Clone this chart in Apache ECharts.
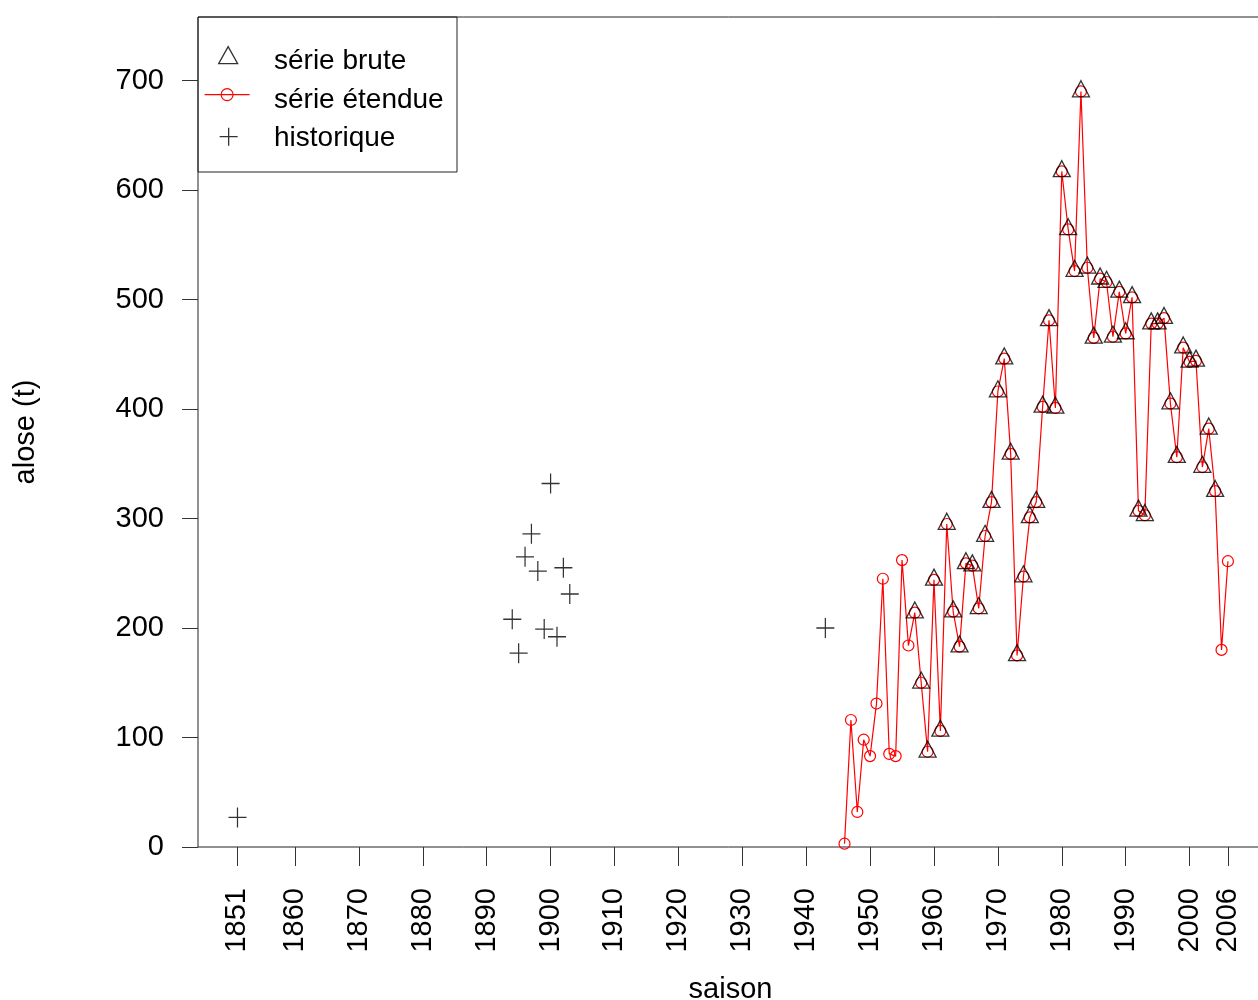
<!DOCTYPE html>
<html>
<head>
<meta charset="utf-8">
<script src="https://cdn.jsdelivr.net/npm/echarts@6.0.0/dist/echarts.min.js"></script>
<style>
  html, body { margin: 0; padding: 0; background: #fff; }
  #chart { width: 1258px; height: 1000px; }
</style>
</head>
<body>
<div id="chart"></div>
<script>
// historique (+)
var historiqueYears  = [1851, 1894, 1895, 1896, 1897, 1898, 1899, 1900, 1901, 1902, 1903, 1943];
var historiqueValues = [27, 208, 177, 265, 286, 252, 199, 332, 192, 255, 231, 200];

// serie etendue (red line + circles)
var etendueYears = [1946, 1947, 1948, 1949, 1950, 1951, 1952, 1953, 1954, 1955,
  1956, 1957, 1958, 1959, 1960, 1961, 1962, 1963, 1964, 1965,
  1966, 1967, 1968, 1969, 1970, 1971, 1972, 1973, 1974, 1975,
  1976, 1977, 1978, 1979, 1980, 1981, 1982, 1983, 1984, 1985,
  1986, 1987, 1988, 1989, 1990, 1991, 1992, 1993, 1994, 1995,
  1996, 1997, 1998, 1999, 2000, 2001, 2002, 2003, 2004, 2005, 2006];
var etendueValues = [3, 116, 32, 98, 83, 131, 245, 85, 83, 262,
  184, 214, 150, 87, 244, 106, 295, 215, 183, 259,
  257, 218, 284, 315, 416, 446, 359, 175, 247, 301,
  315, 402, 481, 401, 617, 564, 526, 690, 529, 465,
  519, 516, 466, 507, 469, 502, 307, 303, 478, 478,
  483, 405, 356, 456, 443, 444, 347, 382, 325, 180, 261];

// serie brute (triangles)
var bruteYears = [1957, 1958, 1959, 1960, 1961, 1962, 1963, 1964, 1965,
  1966, 1967, 1968, 1969, 1970, 1971, 1972, 1973, 1974, 1975,
  1976, 1977, 1978, 1979, 1980, 1981, 1982, 1983, 1984, 1985,
  1986, 1987, 1988, 1989, 1990, 1991, 1992, 1993, 1994, 1995,
  1996, 1997, 1998, 1999, 2000, 2001, 2002, 2003, 2004];
var bruteValues = [214, 150, 87, 244, 106, 295, 215, 183, 259,
  257, 218, 284, 315, 416, 446, 359, 175, 247, 301,
  315, 402, 481, 401, 617, 564, 526, 690, 529, 465,
  519, 516, 466, 507, 469, 502, 307, 303, 478, 478,
  483, 405, 356, 456, 443, 444, 347, 382, 325];

var xTickYears = [1851, 1860, 1870, 1880, 1890, 1900, 1910, 1920, 1930, 1940,
  1950, 1960, 1970, 1980, 1990, 2000, 2006];
var yTickValues = [0, 100, 200, 300, 400, 500, 600, 700];

function pairs(xs, ys) {
  return xs.map(function (x, i) { return [x, ys[i]]; });
}

var FONT = "'Liberation Sans', Arial, sans-serif";
var FS = 29;   // axis text
var LFS = 28;  // legend text
var PLUS = 'path://M0,10L20,10M10,0L10,20';

// legend: one component for each symbol, one for each label
function legendIcon(name, left, top, w, h, extra) {
  var l = {
    data: [name], selectedMode: false, left: left, top: top, padding: 0,
    itemWidth: w, itemHeight: h,
    itemStyle: { borderWidth: 1.3 },
    formatter: function () { return ''; },
    textStyle: { fontSize: 1, lineHeight: 1 }
  };
  return Object.assign(l, extra || {});
}
function legendLabel(name, top) {
  return {
    data: [name], selectedMode: false, left: 267, top: top, padding: 0,
    itemWidth: 1, itemHeight: 1,
    itemStyle: { opacity: 0 }, lineStyle: { opacity: 0 },
    textStyle: { fontFamily: FONT, fontSize: LFS, lineHeight: LFS, color: '#000' }
  };
}

var myChart = echarts.init(document.getElementById('chart'));
var option = {
  animation: false,
  backgroundColor: '#fff',
  textStyle: { fontFamily: FONT },
  grid: {
    left: 198, top: 17, right: -5, bottom: 153,
    outerBoundsMode: 'none', containLabel: false,
    show: true, borderColor: '#222', borderWidth: 1
  },
  legend: [
    legendIcon('série brute', 218, 46, 19, 17),
    legendIcon('série étendue', 204, 88, 45, 15,
      { itemStyle: { borderWidth: 1.2 }, lineStyle: { width: 1.2 } }),
    legendIcon('historique', 219, 127, 18, 18),
    legendLabel('série brute', 47),
    legendLabel('série étendue', 86),
    legendLabel('historique', 124)
  ],
  graphic: [{
    type: 'rect', z: 1, silent: true,
    shape: { x: 198, y: 17, width: 259, height: 155 },
    style: { fill: 'none', stroke: '#222', lineWidth: 1 }
  }],
  xAxis: {
    type: 'value', min: 1844.82, max: 2011.49,
    name: 'saison', nameLocation: 'middle', nameGap: 128,
    nameTextStyle: { fontFamily: FONT, fontSize: FS, color: '#000' },
    axisLine: { show: false },
    splitLine: { show: false },
    axisTick: { show: true, inside: false, length: 19, customValues: xTickYears,
      lineStyle: { color: '#333', width: 1 } },
    axisLabel: { rotate: 90, margin: 41, fontSize: FS, color: '#000', fontFamily: FONT,
      customValues: xTickYears, formatter: function (v) { return String(v); } }
  },
  yAxis: {
    type: 'value', min: 0, max: 758,
    name: 'alose (t)', nameLocation: 'middle', nameGap: 158,
    nameTextStyle: { fontFamily: FONT, fontSize: FS, color: '#000' },
    axisLine: { show: false },
    splitLine: { show: false },
    axisTick: { show: true, inside: false, length: 16, customValues: yTickValues,
      lineStyle: { color: '#333', width: 1 } },
    axisLabel: { margin: 34, fontSize: FS, color: '#000', fontFamily: FONT,
      customValues: yTickValues, formatter: function (v) { return String(v); } }
  },
  series: [
    {
      name: 'série étendue', type: 'line',
      data: pairs(etendueYears, etendueValues),
      symbol: 'circle', symbolSize: 11, showAllSymbol: true,
      lineStyle: { color: '#ff0000', width: 1.2 },
      itemStyle: { color: 'rgba(0,0,0,0)', borderColor: '#ff0000', borderWidth: 1.2 },
      emphasis: { disabled: true }, z: 3
    },
    {
      name: 'série brute', type: 'scatter',
      data: pairs(bruteYears, bruteValues),
      symbol: 'triangle', symbolSize: [17, 16], symbolOffset: [0, -2.7],
      itemStyle: { color: 'rgba(0,0,0,0)', borderColor: '#000', borderWidth: 1.3 },
      emphasis: { disabled: true }, z: 4
    },
    {
      name: 'historique', type: 'scatter',
      data: pairs(historiqueYears, historiqueValues),
      symbol: PLUS, symbolSize: [18, 20],
      itemStyle: { color: 'rgba(0,0,0,0)', borderColor: '#000', borderWidth: 1.3 },
      emphasis: { disabled: true }, z: 4
    }
  ]
};
myChart.setOption(option);
</script>
</body>
</html>
